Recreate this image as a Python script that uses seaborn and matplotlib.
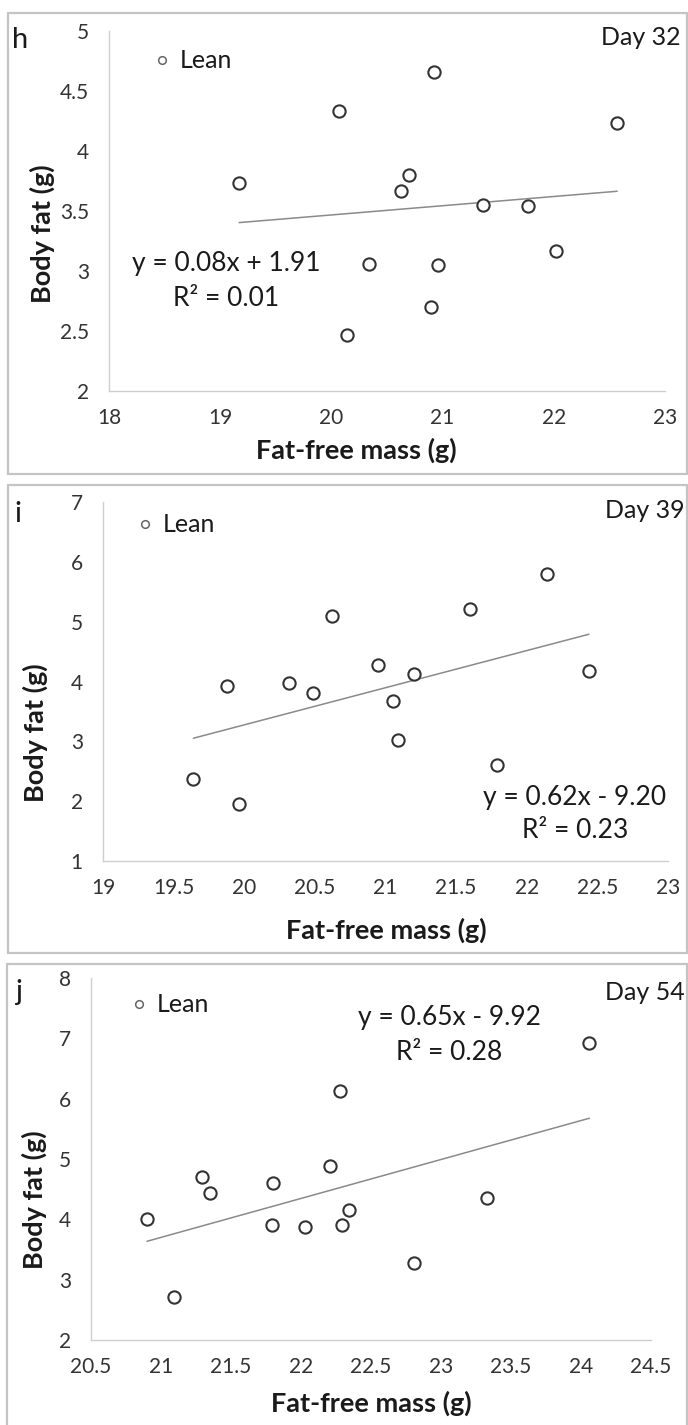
import numpy as np
import pandas as pd
import matplotlib
matplotlib.use("Agg")
import matplotlib.pyplot as plt
import seaborn as sns
from matplotlib.lines import Line2D
from matplotlib.patches import Rectangle
from matplotlib.ticker import FuncFormatter, MultipleLocator

# ---------------- data ----------------
day32_ffm = [19.17, 20.07, 20.92, 22.57, 20.70, 20.63, 21.36, 21.77, 22.02, 20.34, 20.96, 20.90, 20.14]
day32_fat = [3.73, 4.33, 4.66, 4.23, 3.80, 3.67, 3.55, 3.54, 3.17, 3.06, 3.05, 2.70, 2.47]

day39_ffm = [19.64, 19.96, 19.88, 20.32, 20.49, 20.62, 20.95, 21.05, 21.09, 21.20, 21.60, 21.79, 22.14, 22.44]
day39_fat = [2.37, 1.95, 3.93, 3.98, 3.81, 5.10, 4.27, 3.67, 3.03, 4.12, 5.22, 2.61, 5.79, 4.18]

day54_ffm = [20.90, 21.09, 21.29, 21.35, 21.80, 21.79, 22.03, 22.21, 22.28, 22.29, 22.34, 22.81, 23.33, 24.06]
day54_fat = [4.00, 2.71, 4.70, 4.44, 4.60, 3.90, 3.87, 4.89, 6.12, 3.90, 4.16, 3.28, 4.36, 6.93]

panel_letters = ["h", "i", "j"]
day_labels = ["Day 32", "Day 39", "Day 54"]
equations = ["y = 0.08x + 1.91", "y = 0.62x - 9.20", "y = 0.65x - 9.92"]
r2_texts = ["R\u00b2 = 0.01", "R\u00b2 = 0.23", "R\u00b2 = 0.28"]
group_label = "Lean"
xlabel = "Fat-free mass (g)"
ylabel = "Body fat (g)"

x_limits = [(18, 23), (19, 23), (20.5, 24.5)]
y_limits = [(2, 5), (1, 7), (2, 8)]
x_steps = [1, 0.5, 0.5]
y_steps = [0.5, 1, 1]

datasets = [(day32_ffm, day32_fat), (day39_ffm, day39_fat), (day54_ffm, day54_fat)]

# ---------------- layout (pixels) ----------------
W, H = 688, 1425
sns.set_style("white")
plt.rcParams["font.family"] = ["Lato", "DejaVu Sans"]

fig = plt.figure(figsize=(W / 100, H / 100), dpi=100)

def fx(px):
    return px / W

def fy(py):
    return 1 - py / H

# axes boxes: left, right, top, bottom in pixels
axes_px = [(109, 665, 31, 391), (103, 668, 502, 861), (91, 651, 978, 1340)]
borders_px = [(8, 687, 13, 474), (8, 687, 485, 953), (7, 687, 964, 1440)]
letter_pos = [(12, 48), (14, 522), (15, 1000)]
day_pos = [(681, 45), (685, 518), (685, 1000)]
eq_pos = [(226, 263, 298), (575, 797, 831), (449, 1018, 1053)]
legend_pos = [(162, 61), (145, 525), (139, 1005)]
xlabel_pos = [(356, 450), (386, 930), (371, 1403)]
ylabel_pos = [(42, 234), (35, 733), (34, 1200)]

ink = "#1a1a1a"
tick_col = "#333333"
axis_col = "#cfcfcf"

for k in range(3):
    l, r, t, b = borders_px[k]
    fig.patches.append(Rectangle((fx(l), fy(b)), fx(r) - fx(l), fy(t) - fy(b),
                                 transform=fig.transFigure, fill=False,
                                 edgecolor="#c4c4c4", linewidth=1.6, zorder=0))

    al, ar, at, ab = axes_px[k]
    ax = fig.add_axes([fx(al), fy(ab), fx(ar) - fx(al), fy(at) - fy(ab)])
    ax.patch.set_alpha(0)
    xs, ys = datasets[k]
    df = pd.DataFrame({"ffm": xs, "fat": ys})

    sns.regplot(data=df, x="ffm", y="fat", ax=ax, scatter=False, ci=None,
                truncate=True, line_kws=dict(color="#8a8a8a", lw=1.1, zorder=2))
    sns.scatterplot(data=df, x="ffm", y="fat", ax=ax, marker="o", s=78,
                    color="white", edgecolor="#333333", linewidth=1.5, zorder=3)

    ax.set_xlim(*x_limits[k])
    ax.set_ylim(*y_limits[k])
    ax.xaxis.set_major_locator(MultipleLocator(x_steps[k]))
    ax.yaxis.set_major_locator(MultipleLocator(y_steps[k]))
    fmt = FuncFormatter(lambda v, p: f"{v:g}")
    ax.xaxis.set_major_formatter(fmt)
    ax.yaxis.set_major_formatter(fmt)

    for s in ["top", "right"]:
        ax.spines[s].set_visible(False)
    for s in ["left", "bottom"]:
        ax.spines[s].set_color(axis_col)
        ax.spines[s].set_linewidth(1.0)
    ax.tick_params(axis="both", direction="out", length=4.5, width=1.0,
                   color=axis_col, labelsize=15, labelcolor=tick_col)
    ax.tick_params(axis="x", pad=8)
    ax.tick_params(axis="y", pad=10)

    ax.set_xlabel(xlabel, fontsize=19.5, fontweight="bold", color=ink)
    ax.set_ylabel(ylabel, fontsize=19.5, fontweight="bold", color=ink)
    xw = ar - al
    yh = ab - at
    ax.xaxis.set_label_coords((xlabel_pos[k][0] - al) / xw, -(xlabel_pos[k][1] - ab) / yh)
    ax.xaxis.label.set_va("center")
    ax.yaxis.set_label_coords((ylabel_pos[k][0] - al) / xw, 1 - (ylabel_pos[k][1] - at) / yh)
    ax.yaxis.label.set_va("center")

    # legend
    fs_leg = 18
    fs_px = fs_leg * 100 / 72
    hl = 0.4
    mx, my = legend_pos[k]
    left_px = mx - hl * fs_px / 2
    gap_px = 18 - hl * fs_px / 2
    handle = Line2D([], [], marker="o", ls="", mfc="white", mec="#666666", ms=5.5, mew=1.1)
    leg = ax.legend(handles=[handle], labels=[group_label], loc="center left",
                    bbox_to_anchor=(fx(left_px), fy(my)), bbox_transform=fig.transFigure,
                    frameon=False, fontsize=fs_leg, handlelength=hl,
                    handletextpad=gap_px / fs_px, borderpad=0, borderaxespad=0)
    for txt in leg.get_texts():
        txt.set_color(ink)

    # texts
    fig.text(fx(letter_pos[k][0]), fy(letter_pos[k][1]), panel_letters[k],
             fontsize=21, color=ink, ha="left", va="baseline")
    fig.text(fx(day_pos[k][0]), fy(day_pos[k][1]), day_labels[k],
             fontsize=18, color=ink, ha="right", va="baseline")
    ex, ey1, ey2 = eq_pos[k]
    fig.text(fx(ex), fy(ey1), equations[k], fontsize=19, color=ink, ha="center", va="center")
    fig.text(fx(ex), fy(ey2), r2_texts[k], fontsize=19, color=ink, ha="center", va="center")

fig.savefig("out.png", dpi=100)
